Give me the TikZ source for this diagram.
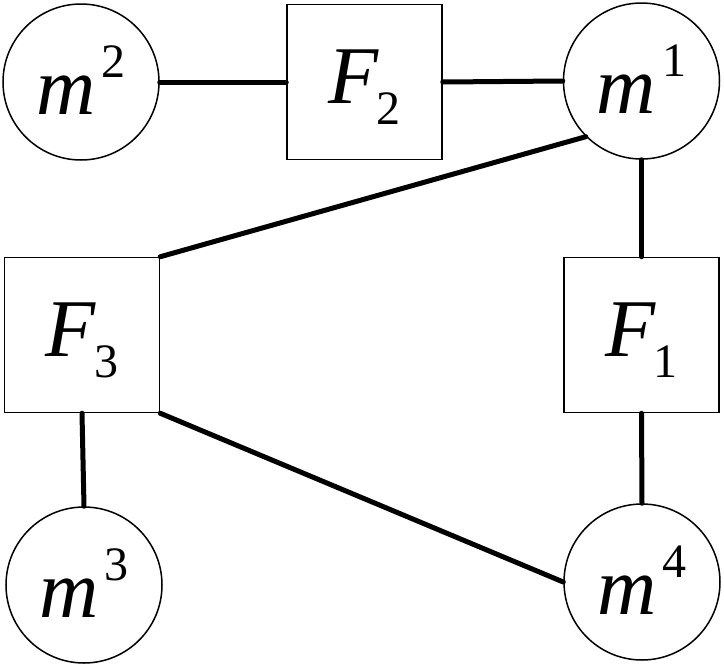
\documentclass[tikz,border=0pt]{standalone}
\usepackage{fontspec}
\setmainfont{Liberation Serif}
\newcommand{\msup}[1]{{\fontsize{82}{82}\selectfont\itshape m}\kern6pt\raisebox{37pt}{\fontsize{48}{48}\selectfont #1}}
\newcommand{\fsub}[1]{{\fontsize{82}{82}\selectfont\itshape F}\kern-2pt\raisebox{-21pt}{\fontsize{48}{48}\selectfont #1}}
\begin{document}
\begin{tikzpicture}[x=1pt,y=-1pt,
  mass/.style={circle,draw,line width=1.5pt,minimum size=156pt,inner sep=0pt,text height=66pt,text depth=2pt},
  fbox/.style={rectangle,draw,line width=1.5pt,minimum size=155pt,inner sep=0pt,text height=60pt,text depth=18pt},
  link/.style={line width=5pt,line cap=round}]
\useasboundingbox (0,0) rectangle (724,667);
\node[mass] (m2) at (81,82) {\msup{2}};
\node[fbox] (F2) at (364.5,82) {\fsub{2}};
\node[mass] (m1) at (641.5,81) {\msup{1}};
\node[fbox] (F3) at (82,335) {\fsub{3}};
\node[fbox] (F1) at (641.5,335) {\fsub{1}};
\node[mass] (m3) at (84,585) {\msup{3}};
\node[mass] (m4) at (642,582) {\msup{4}};
\draw[link] (m2.east) -- (F2.west);
\draw[link] (F2.east) -- (m1.west);
\draw[link] (m1.south west) -- (F3.north east);
\draw[link] (m1.south) -- (F1.north);
\draw[link] (F3.south) -- (m3.north);
\draw[link] (F3.south east) -- (m4.west);
\draw[link] (F1.south) -- (m4.north);
\end{tikzpicture}
\end{document}
